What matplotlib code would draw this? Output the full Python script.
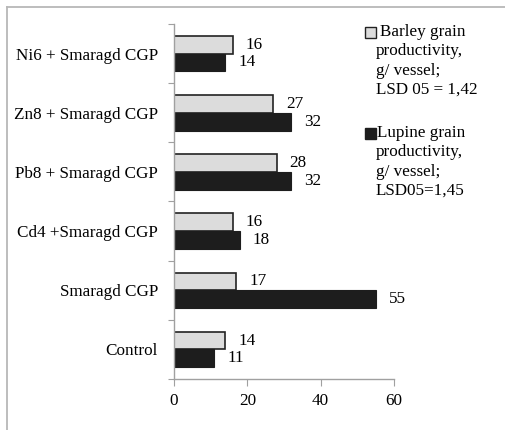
import numpy as np
import matplotlib
matplotlib.use('Agg')
import matplotlib.pyplot as plt
from matplotlib.patches import Rectangle
from matplotlib.lines import Line2D

## data (bottom -> top)
categories = ['Control', 'Smaragd CGP', 'Cd4 +Smaragd CGP', 'Pb8 + Smaragd CGP',
              'Zn8 + Smaragd CGP', 'Ni6 + Smaragd CGP']
barley = [14, 17, 16, 28, 27, 16]
lupine = [11, 55, 18, 32, 32, 14]
barley_label = ['Barley grain', 'productivity,', 'g/ vessel;', 'LSD 05 = 1,42']
lupine_label = ['Lupine grain', 'productivity,', 'g/ vessel;', 'LSD05=1,45']

plt.rcParams['font.family'] = ['Liberation Serif', 'DejaVu Serif']
fs = 12.3
light = '#dcdcdc'
dark = '#1d1d1d'
grey = '#a0a0a0'

fig = plt.figure(figsize=(5.05, 4.30), dpi=100)
ax = fig.add_axes([174/505, 1-379/430, 220/505, 355/430])

y = np.arange(len(categories))
h = 0.30
ax.barh(y + h/2, barley, height=h, color=light, edgecolor='#222222', linewidth=1.2)
ax.barh(y - h/2, lupine, height=h, color=dark, edgecolor=dark, linewidth=0.8)

for i in range(len(categories)):
    ax.annotate(str(barley[i]), (barley[i], y[i] + h/2), xytext=(13, 0),
                textcoords='offset pixels', va='center', ha='left', fontsize=fs)
    ax.annotate(str(lupine[i]), (lupine[i], y[i] - h/2), xytext=(13, 0),
                textcoords='offset pixels', va='center', ha='left', fontsize=fs)

ax.set_xlim(0, 60)
ax.set_ylim(-0.5, len(categories) - 0.5)
ax.set_xticks([0, 20, 40, 60])
ax.set_yticks(np.arange(len(categories) + 1) - 0.5)
ax.set_yticklabels([])
ax.set_yticks(y, minor=True)
ax.set_yticklabels(categories, minor=True, fontsize=fs)
ax.tick_params(axis='y', which='minor', length=0, pad=11.5)
ax.tick_params(axis='y', which='major', length=4, color=grey)
ax.tick_params(axis='x', length=5, color=grey, labelsize=fs, pad=5)
for s in ['top', 'right']:
    ax.spines[s].set_visible(False)
for s in ['left', 'bottom']:
    ax.spines[s].set_color(grey)
    ax.spines[s].set_linewidth(1.0)

## frame
W, H = 505, 430
fig.add_artist(Line2D([7/W, 1], [1-7/H, 1-7/H], color='#b8b8b8', lw=1.3))
fig.add_artist(Line2D([7/W, 7/W], [0, 1-7/H], color='#b8b8b8', lw=1.3))

## legend
def legend_block(lines, y0, fc, ec, first_x):
    fig.add_artist(Rectangle((365/W, 1-(y0+5.5)/H), 11/W, 11/H, facecolor=fc,
                             edgecolor=ec, lw=1.0, transform=fig.transFigure))
    for k, t in enumerate(lines):
        x = first_x if k == 0 else 376
        fig.text(x/W, 1-(y0 + 19.3*k)/H, t, fontsize=fs, va='center', ha='left')

legend_block(barley_label, 32, light, '#222222', 380)
legend_block(lupine_label, 133, dark, dark, 377)

plt.savefig('out.png', dpi=100)
